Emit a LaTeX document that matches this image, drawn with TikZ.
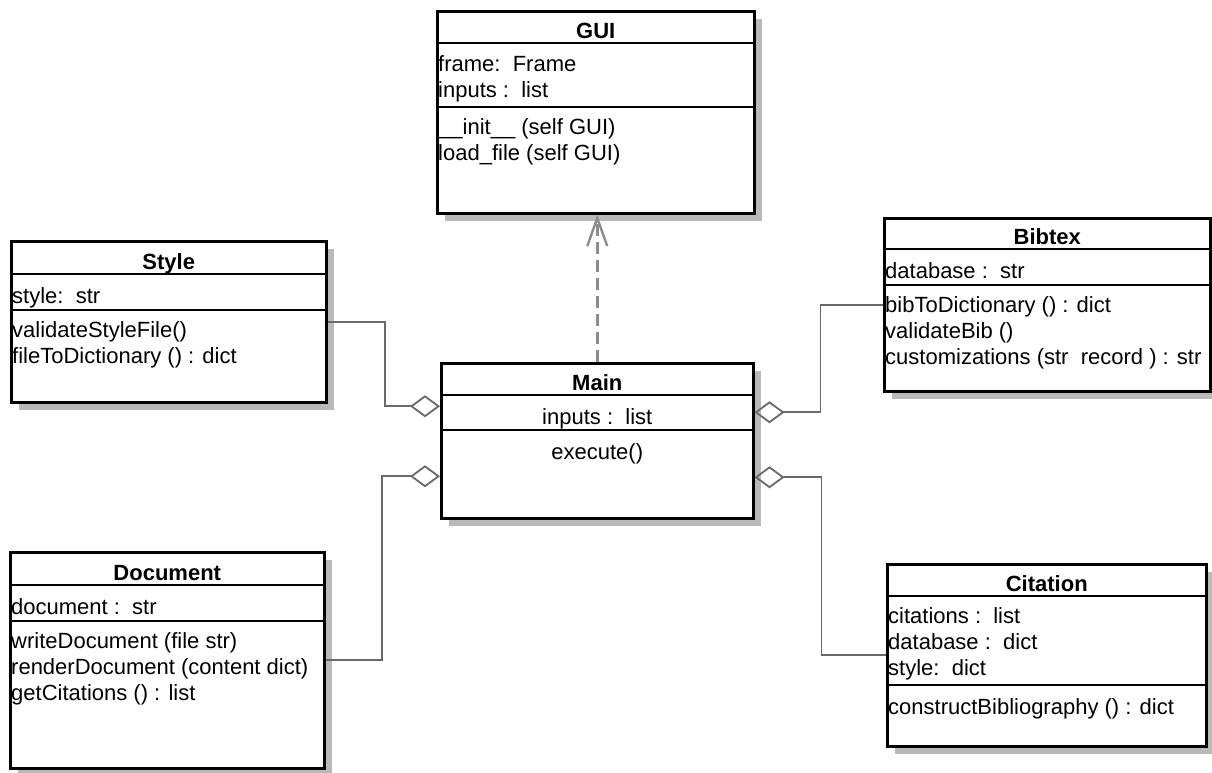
\documentclass[tikz,border=0pt]{standalone}
\usepackage{fontspec}
\setmainfont{Liberation Sans}
\usetikzlibrary{arrows.meta,positioning,shadows}
\definecolor{linkgray}{RGB}{105,105,105}
\definecolor{dashgray}{RGB}{140,140,140}
\definecolor{shadowgray}{RGB}{185,185,185}

\begin{document}
\begin{tikzpicture}[
    x=1pt, y=-1pt,
    classbox/.style={rectangle, draw, line width=2.5pt, fill=white, anchor=north west, inner sep=0pt,
        drop shadow={shadow xshift=8pt, shadow yshift=-8pt, fill=shadowgray, opacity=1}},
    divider/.style={line width=2.5pt},
    title/.style={anchor=base, inner sep=0pt, font=\fontsize{22}{26}\selectfont\bfseries},
    members/.style={anchor=north west, align=left, inner xsep=2pt, inner ysep=0pt,
        font=\fontsize{22}{26}\selectfont, execute at begin node=\strut},
    aggregation/.style={draw=linkgray, line width=1.8pt, -{Diamond[open, length=30pt, width=22pt]}},
    realization/.style={draw=dashgray, line width=2.6pt, dash pattern=on 12pt off 6pt,
        -{Straight Barb[length=28pt, width=20pt, line width=2.4pt]}}
]
\useasboundingbox (0,0) rectangle (1212,772);

% GUI
\node[classbox, minimum width=317pt, minimum height=202pt] (gui) at (436,10) {};
\draw[divider] ([yshift=-33pt]gui.north west) -- ([yshift=-33pt]gui.north east);
\draw[divider] ([yshift=-97pt]gui.north west) -- ([yshift=-97pt]gui.north east);
\node[title] (gui-title) at ([yshift=-28pt]gui.north) {GUI};
\node[members] (gui-attrs) at ([yshift=-45pt]gui.north west) {frame:\ \ Frame\\inputs :\ \ list};
\node[members] (gui-ops) at ([yshift=-108pt]gui.north west) {\_\_init\_\_ (self GUI)\\load\_file (self GUI)};

% Style
\node[classbox, minimum width=315pt, minimum height=161pt] (style) at (10,240) {};
\draw[divider] ([yshift=-34pt]style.north west) -- ([yshift=-34pt]style.north east);
\draw[divider] ([yshift=-70pt]style.north west) -- ([yshift=-70pt]style.north east);
\node[title] (style-title) at ([yshift=-29pt]style.north) {Style};
\node[members] (style-attrs) at ([yshift=-45pt]style.north west) {style:\ \ str};
\node[members] (style-ops) at ([yshift=-81pt]style.north west) {validateStyleFile()\\fileToDictionary () : dict};

% Main
\node[classbox, minimum width=312pt, minimum height=155pt] (main) at (440,362) {};
\draw[divider] ([yshift=-33pt]main.north west) -- ([yshift=-33pt]main.north east);
\draw[divider] ([yshift=-68pt]main.north west) -- ([yshift=-68pt]main.north east);
\node[title] (main-title) at ([yshift=-28pt]main.north) {Main};
\node[members, anchor=north, align=center] (main-attrs) at ([yshift=-44pt]main.north) {inputs :\ \ list};
\node[members, anchor=north, align=center] (main-ops) at ([yshift=-79pt]main.north) {execute()};

% Bibtex
\node[classbox, minimum width=326pt, minimum height=173pt] (bibtex) at (883,217) {};
\draw[divider] ([yshift=-32pt]bibtex.north west) -- ([yshift=-32pt]bibtex.north east);
\draw[divider] ([yshift=-68pt]bibtex.north west) -- ([yshift=-68pt]bibtex.north east);
\node[title] (bibtex-title) at ([yshift=-27pt]bibtex.north) {Bibtex};
\node[members] (bibtex-attrs) at ([yshift=-43pt]bibtex.north west) {database :\ \ str};
\node[members] (bibtex-ops) at ([yshift=-79pt]bibtex.north west) {bibToDictionary () : dict\\validateBib ()\\customizations (str\ \ record ) : str};

% Document
\node[classbox, minimum width=314pt, minimum height=216pt] (document) at (9,551) {};
\draw[divider] ([yshift=-34pt]document.north west) -- ([yshift=-34pt]document.north east);
\draw[divider] ([yshift=-70pt]document.north west) -- ([yshift=-70pt]document.north east);
\node[title] (document-title) at ([yshift=-29pt]document.north) {Document};
\node[members] (document-attrs) at ([yshift=-45pt]document.north west) {document :\ \ str};
\node[members] (document-ops) at ([yshift=-81pt]document.north west) {writeDocument (file str)\\renderDocument (content dict)\\getCitations () : list};

% Citation
\node[classbox, minimum width=319pt, minimum height=182pt] (citation) at (886,563) {};
\draw[divider] ([yshift=-33pt]citation.north west) -- ([yshift=-33pt]citation.north east);
\draw[divider] ([yshift=-122pt]citation.north west) -- ([yshift=-122pt]citation.north east);
\node[title] (citation-title) at ([yshift=-28pt]citation.north) {Citation};
\node[members] (citation-attrs) at ([yshift=-44pt]citation.north west) {citations :\ \ list\\database :\ \ dict\\style:\ \ dict};
\node[members] (citation-ops) at ([yshift=-133pt]citation.north west) {constructBibliography () : dict};

% Links
\draw[realization] (main.north) -- (main.north |- gui.south);
\draw[aggregation] (style.east) -| ([xshift=-55pt, yshift=34.5pt]main.west) -- ([yshift=34.5pt]main.west);
\draw[aggregation] (document.east) -| ([xshift=-58pt, yshift=-35.5pt]main.west) -- ([yshift=-35.5pt]main.west);
\draw[aggregation] (bibtex.west) -| ([xshift=66pt, yshift=28.5pt]main.east) -- ([yshift=28.5pt]main.east);
\draw[aggregation] (citation.west) -| ([xshift=67pt, yshift=-36.5pt]main.east) -- ([yshift=-36.5pt]main.east);

\end{tikzpicture}
\end{document}
